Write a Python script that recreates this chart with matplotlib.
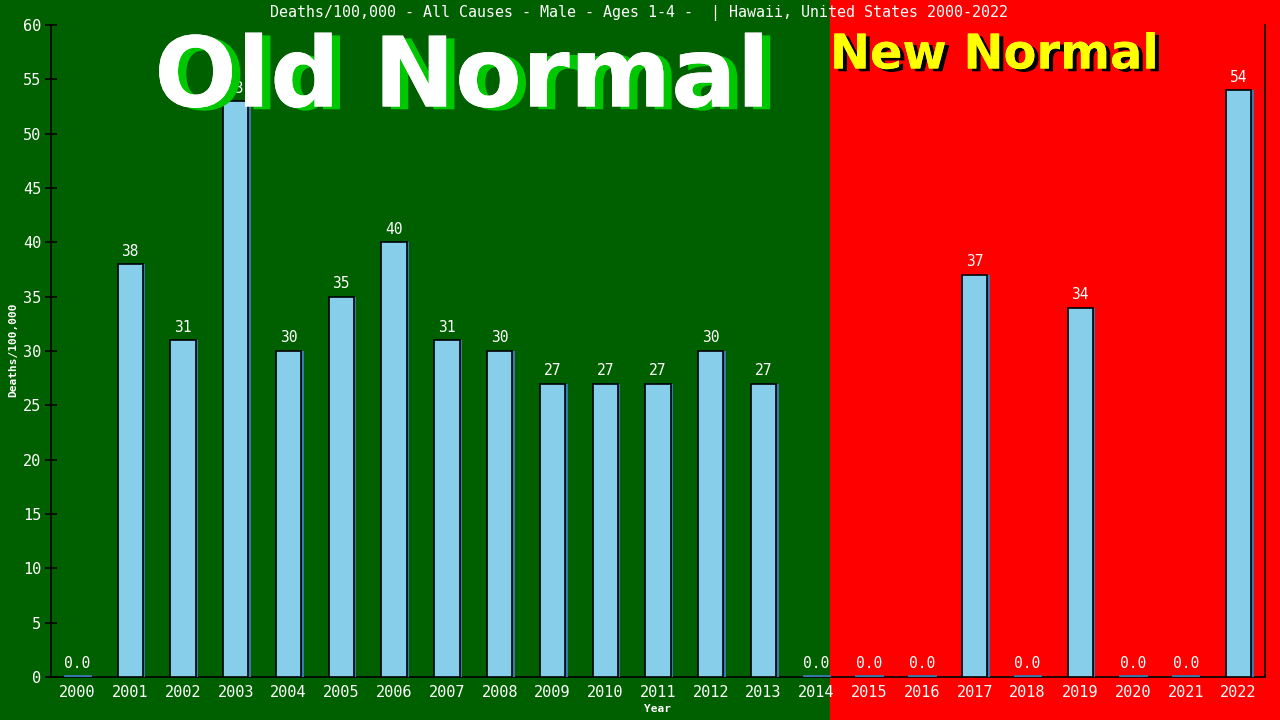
import matplotlib
matplotlib.use("Agg")
import matplotlib.pyplot as plt
import matplotlib.patheffects as pe
from matplotlib.patches import Rectangle

years = [str(y) for y in range(2000, 2023)]
values = [0, 38, 31, 53, 30, 35, 40, 31, 30, 27, 27, 27, 30, 27,
          0, 0, 0, 37, 0, 34, 0, 0, 54]
yticks = list(range(0, 65, 5))
title = "Deaths/100,000 - All Causes - Male - Ages 1-4 -  | Hawaii, United States 2000-2022"

W, H = 1280, 720
fig = plt.figure(figsize=(12.8, 7.2), dpi=100)
split = 830 / W
fig.patches.append(Rectangle((0, 0), split, 1, transform=fig.transFigure,
                             color="#006000", zorder=-10))
fig.patches.append(Rectangle((split, 0), 1 - split, 1, transform=fig.transFigure,
                             color="#ff0000", zorder=-10))

left, right, top, bottom = 51, 1265, 25, 677
ax = fig.add_axes([left / W, 1 - bottom / H, (right - left) / W, (bottom - top) / H])
ax.patch.set_alpha(0)

mono = "DejaVu Sans Mono"
x = list(range(len(years)))
bw = 0.48
shadow_dx = 2.5 / ((right - left) / len(years))
ax.bar([i + shadow_dx for i in x], values, width=bw, color="#3a78b0",
       edgecolor="none", zorder=3)
ax.bar(x, values, width=bw, color="#87ceeb", edgecolor="black",
       linewidth=1.2, zorder=4)
for i, v in enumerate(values):
    if v == 0:
        ax.plot([i - bw / 2, i + bw / 2], [0.12, 0.12], color="#3a78b0", lw=2, zorder=4)
    lbl = "0.0" if v == 0 else f"{v}"
    ax.annotate(lbl, (i, v), xytext=(0, 4), textcoords="offset points",
                ha="center", va="bottom", color="white", fontsize=10.5,
                family=mono, zorder=1)

ax.set_xlim(-0.5, len(years) - 0.5)
ax.set_ylim(0, 60)
ax.set_yticks(yticks)
ax.set_yticklabels([str(t) for t in yticks], family=mono, fontsize=11, color="white")
ax.set_xticks(x)
ax.set_xticklabels(years, family=mono, fontsize=11, color="white")
ax.tick_params(axis="y", direction="inout", length=8, width=1.2, color="black", pad=3)
ax.tick_params(axis="x", length=0, pad=6)
for s in ["left", "bottom", "right"]:
    ax.spines[s].set_color("black")
    ax.spines[s].set_linewidth(1.2)
ax.spines["top"].set_visible(False)

fig.text(13 / W, 1 - 350 / H, "Deaths/100,000", rotation=90, ha="center", va="center",
         family=mono, fontsize=8, fontweight="bold", color="white")
fig.text(658 / W, 1 - 709 / H, "Year", ha="center", va="center",
         family=mono, fontsize=8, fontweight="bold", color="white")

fig.text(639 / W, 1 - 13 / H, title, ha="center", va="center", color="white",
         fontsize=10.8, family=mono)

fig.text(462 / W, 1 - 80 / H, "Old Normal", ha="center", va="center",
         color="white", fontsize=70, fontweight="bold", family="DejaVu Sans",
         zorder=2,
         path_effects=[pe.withSimplePatchShadow(offset=(6, -2), shadow_rgbFace="#00c800", alpha=1),
                       pe.Normal()])
fig.text(994 / W, 1 - 55 / H, "New Normal", ha="center", va="center",
         color="#ffff00", fontsize=34.5, fontweight="bold", family="DejaVu Sans",
         zorder=2,
         path_effects=[pe.withSimplePatchShadow(offset=(3, -2), shadow_rgbFace="black", alpha=1),
                       pe.Normal()])

fig.savefig("out.png", dpi=100)
